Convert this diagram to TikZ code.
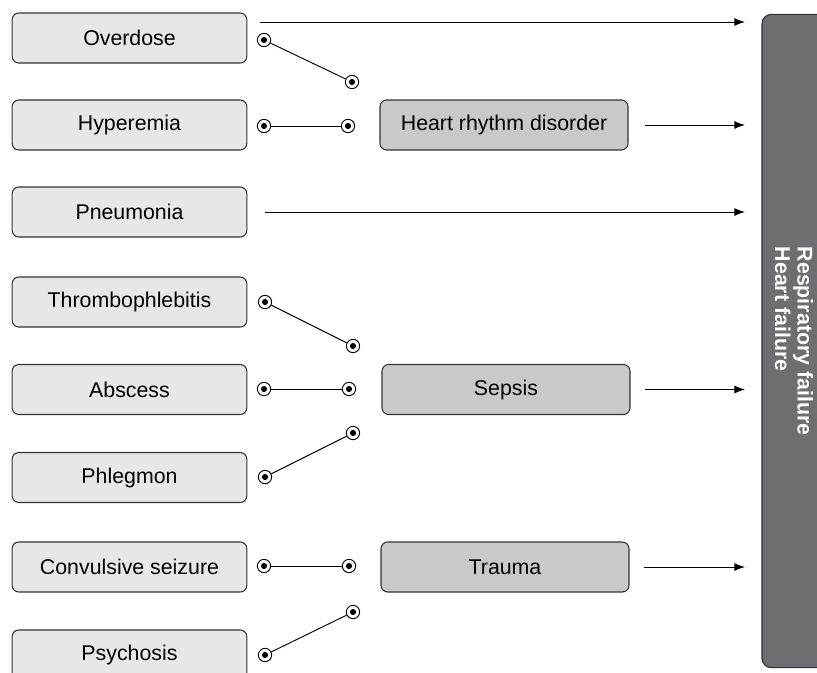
\documentclass[tikz,border=0pt]{standalone}
\usepackage{fontspec}
\setmainfont{Liberation Sans}
\usepackage{tikz}
\usepackage{xcolor}
\usetikzlibrary{shapes,positioning,arrows.meta}

\definecolor{lightbox}{HTML}{E6E7E8}
\definecolor{midbox}{HTML}{C8C9CB}
\definecolor{darkbox}{HTML}{6D6E71}
\definecolor{edge}{HTML}{333333}

\begin{document}
\begin{tikzpicture}[x=0.75pt, y=-0.75pt,
        cause/.style={rectangle, rounded corners=5pt, draw=edge, line width=0.8pt, fill=lightbox, minimum width=176pt, minimum height=37.5pt, font=\fontsize{16}{18}\selectfont},
        effect/.style={rectangle, rounded corners=5pt, draw=edge, line width=0.8pt, fill=midbox, minimum width=186pt, minimum height=37.5pt, font=\fontsize{16}{18}\selectfont},
        outcome/.style={rectangle, rounded corners=7pt, draw=edge, line width=0.8pt, fill=darkbox, text=white, rotate=-90, minimum width=490pt, minimum height=48pt, align=left, font=\bfseries\fontsize{16}{17}\selectfont},
        dot/.style={circle, draw=black, line width=0.7pt, fill=white, minimum size=10pt, inner sep=0pt, path picture={\fill[black] (path picture bounding box.center) circle (2.3pt);}},
        link/.style={draw=black, line width=0.7pt},
        arrow/.style={draw=black, line width=0.7pt, -{Latex[length=8pt, width=6pt]}}
    ]
        \useasboundingbox (0,0) rectangle (817,672);

        % Causes
        \node[cause] (od) at (129.5,38) {Overdose};
        \node[cause] (hy) at (129.5,125) {Hyperemia};
        \node[cause] (pn) at (129.5,212) {Pneumonia};
        \node[cause] (th) at (129.5,302) {Thrombophlebitis};
        \node[cause] (ab) at (129.5,389.5) {Abscess};
        \node[cause] (ph) at (129.5,477.5) {Phlegmon};
        \node[cause] (cs) at (129.5,567) {Convulsive seizure};
        \node[cause] (ps) at (129.5,655) {Psychosis};

        % Intermediate states
        \node[effect] (hr) at (504,125) {Heart rhythm disorder};
        \node[effect] (se) at (506,389.5) {Sepsis};
        \node[effect] (tr) at (505,567) {Trauma};

        % Outcome
        \node[outcome] (rf) at (794,341) {Respiratory failure\\Heart failure};

        % Switches
        \node[dot] (od1) at (264,40) {};
        \node[dot] (od2) at (352,82) {};
        \node[dot] (hy1) at (264,126) {};
        \node[dot] (hy2) at (348,126) {};
        \node[dot] (th1) at (265,302) {};
        \node[dot] (th2) at (353,346) {};
        \node[dot] (ab1) at (264,389) {};
        \node[dot] (ab2) at (349,389) {};
        \node[dot] (ph1) at (265,477) {};
        \node[dot] (ph2) at (353,433) {};
        \node[dot] (cs1) at (264,566) {};
        \node[dot] (cs2) at (349,566) {};
        \node[dot] (ps1) at (265,655) {};
        \node[dot] (ps2) at (353,612) {};

        \draw[link] (od1) -- (od2);
        \draw[link] (hy1) -- (hy2);
        \draw[link] (th1) -- (th2);
        \draw[link] (ab1) -- (ab2);
        \draw[link] (ph1) -- (ph2);
        \draw[link] (cs1) -- (cs2);
        \draw[link] (ps1) -- (ps2);

        % Arrows to outcome
        \coordinate (a1) at (260,22);
        \coordinate (a2) at (265,212);
        \coordinate (e1) at (745,22);
        \coordinate (e2) at (745,212);
        \coordinate (e3) at (745,125);
        \coordinate (e4) at (745,389.5);
        \coordinate (e5) at (745,567);
        \draw[arrow] (a1) -- (e1);
        \draw[arrow] (a2) -- (e2);
        \draw[arrow] ([xshift=12pt]hr.east) -- (e3);
        \draw[arrow] ([xshift=11pt]se.east) -- (e4);
        \draw[arrow] ([xshift=11pt]tr.east) -- (e5);
    \end{tikzpicture}
\end{document}
